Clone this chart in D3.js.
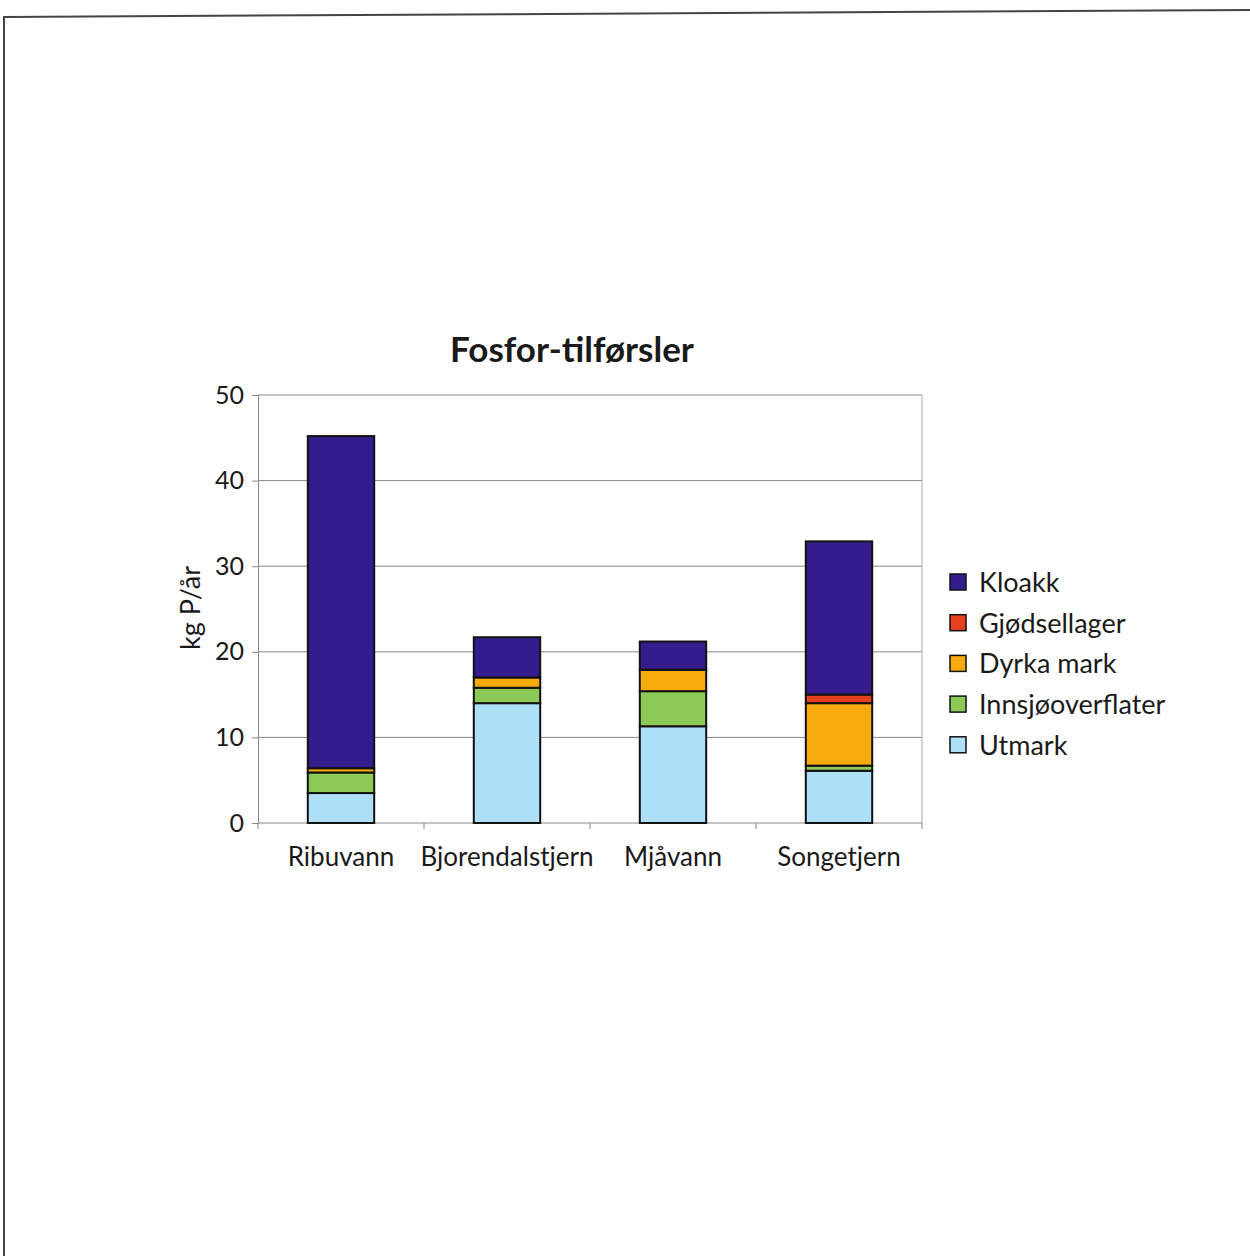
<!DOCTYPE html>
<html>
<head>
<meta charset="utf-8">
<script src="https://cdn.jsdelivr.net/npm/d3@7"></script>
<style>
  html, body { margin: 0; padding: 0; background: #fff; }
  svg { display: block; }
  text { font-family: Lato, "Open Sans", sans-serif; fill: #1a1a1a; }
</style>
</head>
<body>
<svg id="chart" width="1250" height="1256"></svg>
<script>
// Phosphorus inputs per lake, kg P per year
const lakes = ["Ribuvann", "Bjorendalstjern", "Mjåvann", "Songetjern"];
const sources = ["Utmark", "Innsjøoverflater", "Dyrka mark", "Gjødsellager", "Kloakk"];
const utmark        = [3.5, 14.0, 11.3, 6.1];
const innsjo        = [2.4, 1.8, 4.1, 0.6];
const dyrkaMark     = [0.5, 1.2, 2.5, 7.3];
const gjodsellager  = [0.0, 0.0, 0.0, 1.0];
const kloakk        = [38.8, 4.7, 3.3, 17.9];
const sourceColors  = ["#ade0f6", "#8cc957", "#f7aa0e", "#e6401e", "#351c8c"];
const yTicks = [0, 10, 20, 30, 40, 50];
const legendOrder = ["Kloakk", "Gjødsellager", "Dyrka mark", "Innsjøoverflater", "Utmark"];

const seriesValues = [utmark, innsjo, dyrkaMark, gjodsellager, kloakk];
const rows = lakes.map((lake, i) => {
  const r = { lake };
  sources.forEach((s, j) => { r[s] = seriesValues[j][i]; });
  return r;
});

const svg = d3.select("#chart");

// page frame (top and left edges)
svg.append("line").attr("x1", 4).attr("y1", 17).attr("x2", 1250).attr("y2", 10)
  .attr("stroke", "#444").attr("stroke-width", 2);
svg.append("line").attr("x1", 4).attr("y1", 16).attr("x2", 4).attr("y2", 1256)
  .attr("stroke", "#444").attr("stroke-width", 2);

const plot = { left: 258, right: 922, top: 395, bottom: 823 };

const x = d3.scaleBand().domain(lakes).range([plot.left, plot.right]).paddingInner(0.6).paddingOuter(0.3);
const xb = d3.scaleBand().domain(lakes).range([plot.left, plot.right]);
const y = d3.scaleLinear().domain([0, 50]).range([plot.bottom, plot.top]);
const color = d3.scaleOrdinal().domain(sources).range(sourceColors);

// gridlines
svg.append("g").selectAll("line").data(yTicks.filter(t => t > 0)).join("line")
  .attr("x1", plot.left).attr("x2", plot.right)
  .attr("y1", d => y(d)).attr("y2", d => y(d))
  .attr("stroke", "#888").attr("stroke-width", 1);

// right frame of plot area
svg.append("line").attr("x1", plot.right).attr("x2", plot.right)
  .attr("y1", plot.top).attr("y2", plot.bottom).attr("stroke", "#aaa");

// y axis
const yAxis = svg.append("g").attr("transform", `translate(${plot.left},0)`)
  .call(d3.axisLeft(y).tickValues(yTicks).tickSize(6).tickPadding(8));
yAxis.select(".domain").attr("stroke", "#888");
yAxis.selectAll(".tick line").attr("stroke", "#888");
yAxis.selectAll("text").style("font-size", "25px").attr("fill", "#1a1a1a");

// x axis with ticks between categories
const xAxis = svg.append("g").attr("transform", `translate(0,${plot.bottom})`);
xAxis.append("line").attr("x1", plot.left).attr("x2", plot.right).attr("stroke", "#888");
const bounds = lakes.map(l => xb(l)).concat([plot.right]);
xAxis.selectAll("line.tk").data(bounds).join("line").attr("class", "tk")
  .attr("x1", d => d).attr("x2", d => d).attr("y1", 0).attr("y2", 6).attr("stroke", "#888");
xAxis.selectAll("text").data(lakes).join("text")
  .attr("x", d => xb(d) + xb.bandwidth() / 2).attr("y", 43)
  .attr("text-anchor", "middle").style("font-size", "26px").text(d => d);

// stacked bars
const stacked = d3.stack().keys(sources)(rows);
svg.append("g").selectAll("g").data(stacked).join("g")
  .attr("fill", d => color(d.key))
  .selectAll("rect").data(d => d.filter(p => p[1] - p[0] > 0)).join("rect")
  .attr("x", d => x(d.data.lake))
  .attr("width", x.bandwidth())
  .attr("y", d => y(d[1]))
  .attr("height", d => y(d[0]) - y(d[1]))
  .attr("stroke", "#111").attr("stroke-width", 2);

// title
svg.append("text").attr("x", 572).attr("y", 362).attr("text-anchor", "middle")
  .style("font-size", "35px").style("font-weight", "bold").text("Fosfor-tilførsler");

// y axis title
svg.append("text").attr("transform", "translate(200,608) rotate(-90)")
  .attr("text-anchor", "middle").style("font-size", "27px").text("kg P/år");

// legend
const legend = svg.append("g").selectAll("g").data(legendOrder).join("g")
  .attr("transform", (d, i) => `translate(950,${582 + i * 40.7})`);
legend.append("rect").attr("x", 0).attr("y", -8).attr("width", 16).attr("height", 16)
  .attr("fill", d => color(d)).attr("stroke", "#111").attr("stroke-width", 1.5);
legend.append("text").attr("x", 29).attr("y", 10).style("font-size", "27px").text(d => d);
</script>
</body>
</html>
